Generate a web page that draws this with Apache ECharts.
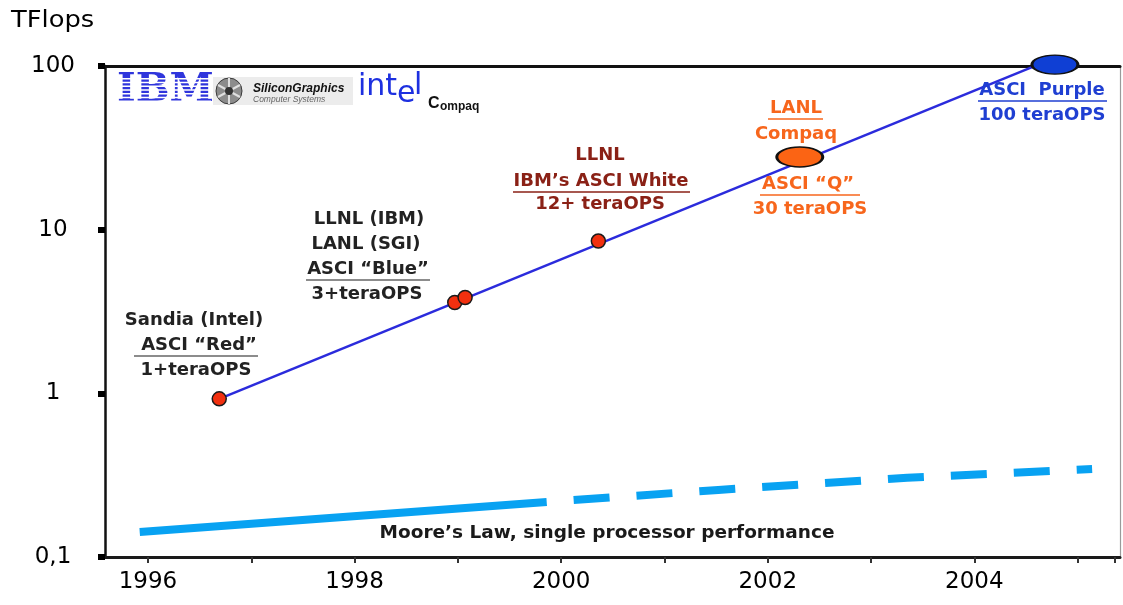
<!DOCTYPE html>
<html><head><meta charset="utf-8">
<script src="https://cdn.jsdelivr.net/npm/echarts@6/dist/echarts.min.js"></script>
<style>html,body{margin:0;padding:0;background:#fff}#c{width:1123px;height:605px}</style>
</head><body><div id="c"></div><script>
// ---- data ----
const xTickValues = [1996, 1997, 1998, 1999, 2000, 2001, 2002, 2003, 2004, 2005, 2005.36];
const xLabelValues = [1996, 1998, 2000, 2002, 2004];
const yTickValues = [0.1, 1, 10, 100];
const yTickLabels = ['0,1', '1', '10', '100'];

const redYears = [1996.69, 1998.97, 1999.07, 2000.36];
const redTflops = [0.925, 3.59, 3.85, 8.52];
const qYears = [2002.31];
const qTflops = [27.8];
const purpleYears = [2004.78];
const purpleTflops = [102];
const trendYears = [1996.69, 2004.6];
const trendTflops = [0.925, 101];
const mooreYears = [1995.92, 1999.86];
const mooreTflops = [0.142, 0.217];
const mooreProjYears = [1999.86, 2001.52, 2003.35, 2005.14];
const mooreProjTflops = [0.217, 0.257, 0.305, 0.345];

const yAxisTitle = 'TFlops';
const mooreLabel = 'Moore\u2019s Law, single processor performance';

const pairs = (xs, ys) => xs.map((x, i) => [x, ys[i]]);

// ---- style constants ----
const XMIN = 1995.584, XMAX = 2005.41;
const ANN = 'bold 18px "DejaVu Sans"';
const DARKRED = '#8a2116', ORANGE = '#f7661c', PURP = '#1f3fd2', GREY = '#111';
const ellipse = 'path://M0,10 A10,10 0 1,1 20,10 A10,10 0 1,1 0,10 Z';

function txt(t, x, y, color, font, align, extra) {
  return Object.assign({
    type: 'text', x: x, y: y, z: 100,
    style: { text: t, fill: color, font: font || ANN, align: align || 'center', verticalAlign: 'middle',
             textAlign: align || 'center', textVerticalAlign: 'middle' }
  }, extra || {});
}
function uline(x1, x2, y, color) {
  return { type: 'line', z: 100, shape: { x1: x1, y1: y, x2: x2, y2: y }, style: { stroke: color, lineWidth: 1.6 } };
}

const graphics = [
  txt(yAxisTitle, 11, 21, '#000', '23px "DejaVu Sans"', 'left', { scaleX: 1.12 }),
  // annotations
  txt('Sandia (Intel)', 194, 320, '#222'),
  txt('ASCI \u201CRed\u201D', 199, 345, '#222'),
  uline(134, 258, 356, '#666'),
  txt('1+teraOPS', 196, 370, '#222'),
  txt('LLNL (IBM)', 369, 219, '#222'),
  txt('LANL (SGI)', 366, 244, '#222'),
  txt('ASCI \u201CBlue\u201D', 368, 269, '#222'),
  uline(306, 430, 280, '#666'),
  txt('3+teraOPS', 367, 294, '#222'),
  txt('LLNL', 600, 155, DARKRED),
  txt('IBM\u2019s ASCI White', 601, 181, DARKRED),
  uline(513, 690, 192, DARKRED),
  txt('12+ teraOPS', 600, 204, DARKRED),
  txt('LANL', 796, 108, ORANGE),
  uline(768, 823, 119, ORANGE),
  txt('Compaq', 796, 134, ORANGE),
  txt('ASCI \u201CQ\u201D', 808, 184, ORANGE),
  uline(760, 860, 195, ORANGE),
  txt('30 teraOPS', 810, 209, ORANGE),
  txt('ASCI  Purple', 1042, 90, PURP),
  uline(978, 1107, 101, PURP),
  txt('100 teraOPS', 1042, 115, PURP),
  txt(mooreLabel, 607, 533, '#1a1a1a', 'bold 18.5px "DejaVu Sans"'),
  // logos
  txt('IBM', 117, 91, '#2f35dc', 'bold 40px "DejaVu Serif"', 'left')
];
for (let k = 1; k <= 7; k++) {
  graphics.push({ type: 'rect', z: 101, shape: { x: 115, y: 75 + k * 30 / 8 - 0.7, width: 96, height: 1.4 }, style: { fill: '#fff' } });
}
graphics.push(
  { type: 'rect', z: 99, shape: { x: 213, y: 77, width: 140, height: 28 }, style: { fill: '#ececec' } },
  { type: 'circle', z: 100, shape: { cx: 229, cy: 91, r: 13 }, style: { fill: '#8c8c8c', stroke: '#3a3a3a', lineWidth: 1 } },
  { type: 'line', z: 101, shape: { x1: 218, y1: 85, x2: 240, y2: 97 }, style: { stroke: '#e0e0e0', lineWidth: 2 } },
  { type: 'line', z: 101, shape: { x1: 218, y1: 97, x2: 240, y2: 85 }, style: { stroke: '#e0e0e0', lineWidth: 2 } },
  { type: 'line', z: 101, shape: { x1: 229, y1: 78, x2: 229, y2: 104 }, style: { stroke: '#e0e0e0', lineWidth: 2 } },
  { type: 'circle', z: 102, shape: { cx: 229, cy: 91, r: 4 }, style: { fill: '#333' } },
  txt('SiliconGraphics', 253, 89, '#111', 'italic bold 12px "Liberation Sans"', 'left'),
  txt('Computer Systems', 253, 100, '#666', 'italic 8.5px "Liberation Sans"', 'left'),
  txt('int', 358, 87, '#1d30e0', '30px "DejaVu Sans"', 'left'),
  txt('e', 397, 94, '#1d30e0', '30px "DejaVu Sans"', 'left'),
  txt('l', 414, 86, '#1d30e0', '30px "DejaVu Sans"', 'left'),
  txt('C', 428, 104, '#111', 'bold 16px "Liberation Sans"', 'left'),
  txt('ompaq', 440, 107, '#111', 'bold 12px "Liberation Sans"', 'left')
);

const chart = echarts.init(document.getElementById('c'), null, { renderer: 'canvas' });
chart.setOption({
  animation: false,
  backgroundColor: '#fff',
  grid: { left: 105, right: 3, top: 66, bottom: 48, containLabel: false },
  xAxis: [{
    type: 'value', min: XMIN, max: XMAX, position: 'bottom',
    axisLine: { show: true, onZero: false, lineStyle: { color: '#1a1a1a', width: 3 } },
    axisTick: { show: true, length: 6, customValues: xTickValues, lineStyle: { color: '#333', width: 2 } },
    axisLabel: { show: true, customValues: xLabelValues, margin: 14, color: '#000',
                 fontFamily: 'DejaVu Sans', fontSize: 23, formatter: v => String(Math.round(v)) },
    splitLine: { show: false }
  }, {
    type: 'value', min: XMIN, max: XMAX, position: 'top',
    axisLine: { show: true, onZero: false, lineStyle: { color: '#111', width: 3 } },
    axisTick: { show: false }, axisLabel: { show: false }, splitLine: { show: false }
  }],
  yAxis: [{
    type: 'log', logBase: 10, min: 0.1, max: 100, position: 'left',
    axisLine: { show: true, onZero: false, lineStyle: { color: '#111', width: 2.5 } },
    axisTick: { show: true, length: 7, customValues: yTickValues, lineStyle: { color: '#000', width: 6 } },
    axisLabel: { show: true, customValues: yTickValues, margin: 52, align: 'center', color: '#000',
                 fontFamily: 'DejaVu Sans', fontSize: 23,
                 formatter: v => { const i = yTickValues.findIndex(t => Math.abs(Math.log10(t) - Math.log10(v)) < 1e-6); return i >= 0 ? yTickLabels[i] : ''; } },
    splitLine: { show: false }
  }, {
    type: 'log', logBase: 10, min: 0.1, max: 100, position: 'right',
    axisLine: { show: true, onZero: false, lineStyle: { color: '#9a9a9a', width: 1.2 } },
    axisTick: { show: false }, axisLabel: { show: false }, splitLine: { show: false }
  }],
  series: [
    { type: 'line', name: 'Moore', data: pairs(mooreYears, mooreTflops), symbol: 'none', clip: false,
      lineStyle: { color: '#08a2f2', width: 8, type: 'solid' }, z: 3 },
    { type: 'line', name: 'Moore projected', data: pairs(mooreProjYears, mooreProjTflops), symbol: 'none', clip: false,
      lineStyle: { color: '#08a2f2', width: 8, type: [36, 27], dashOffset: 36, cap: 'butt' }, z: 3 },
    { type: 'line', name: 'ASCI trend', data: pairs(trendYears, trendTflops), symbol: 'none', clip: false,
      lineStyle: { color: '#2b2bdc', width: 2.5 }, z: 4 },
    { type: 'scatter', name: 'ASCI systems', data: pairs(redYears, redTflops), symbol: 'circle', symbolSize: 14, clip: false,
      itemStyle: { color: '#f2300f', borderColor: '#1a1a1a', borderWidth: 1.5, opacity: 1 }, z: 5 },
    { type: 'scatter', name: 'ASCI Q', data: pairs(qYears, qTflops), symbol: ellipse, symbolSize: [46, 20], clip: false,
      itemStyle: { color: '#fb6414', borderColor: '#111', borderWidth: 2, opacity: 1 }, z: 5 },
    { type: 'scatter', name: 'ASCI Purple', data: pairs(purpleYears, purpleTflops), symbol: ellipse, symbolSize: [46, 19], clip: false,
      itemStyle: { color: '#0f3fd4', borderColor: '#111', borderWidth: 2, opacity: 1 }, z: 5 }
  ],
  graphic: graphics
});
</script></body></html>
